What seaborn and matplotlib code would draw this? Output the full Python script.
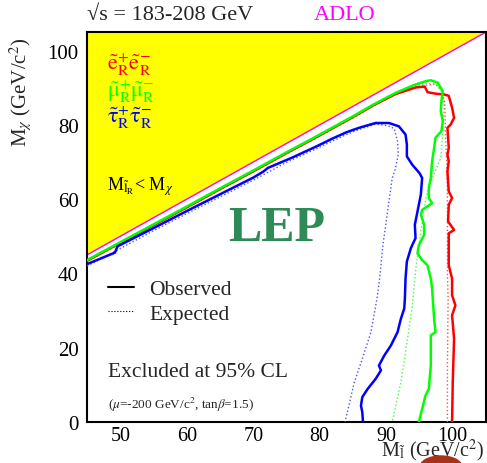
import matplotlib
matplotlib.use("Agg")
import matplotlib.pyplot as plt
from matplotlib.lines import Line2D
from matplotlib.patches import Ellipse
import seaborn as sns
import numpy as np

# ---------------- data ----------------
diag_x = [45, 105]

green_obs_x = [45, 50, 55, 60, 65, 70, 75, 79.5, 85, 88, 91.4, 94, 96, 96.7, 97.7, 98.5, 98.3, 98.2,
               98.5, 98.3, 97.4, 97.2, 96.9, 96.7, 96.4, 96.4, 96.9, 95.4, 95.2, 95.7, 95.7, 94.9, 94.7,
               95.4, 96.2, 96.7, 96.9, 97.0, 97.2, 97.4, 96.7, 96.7, 96.4, 95.9, 95.4, 94.9]
green_obs_y = [43.6, 48.4, 53.2, 58.0, 62.9, 67.7, 72.6, 76.9, 82.3, 85.4, 88.6, 90.6, 91.8, 92.0, 91.4,
               89.1, 86.4, 83.7, 81.0, 78.3, 76.5, 73.8, 70.2, 65.7, 63.0, 60.3, 58.9, 57.1, 55.8, 53.1,
               50.4, 47.6, 45.4, 43.6, 42.2, 38.6, 35.9, 33.0, 27.8, 24.2, 23.3, 15.2, 8.9, 7.1, 3.5, 0]

red_obs_x = [45, 50, 55, 60, 65, 70, 75, 79.5, 85, 88, 91.4, 94.5, 95.8, 96.2, 97.4, 98.7, 99.4, 99.9,
             100.2, 99.7, 99.2, 99.3, 99.4, 99.2, 99.4, 99.2, 99.3, 99.4, 99.9, 99.4, 99.3, 100.2, 99.4,
             99.4, 99.9, 99.9, 100.4, 99.9, 100.2, 100.0, 99.9]
red_obs_y = [43.4, 48.2, 53.0, 57.8, 62.7, 67.5, 72.4, 76.7, 82.1, 85.2, 88.3, 90.1, 90.3, 88.8, 88.4,
             88.2, 87.8, 84.6, 81.9, 80.1, 79.2, 76.5, 73.8, 72.0, 70.2, 67.5, 64.8, 62.1, 60.3, 58.5,
             54.0, 51.7, 50.8, 42.2, 38.6, 34.1, 31.4, 28.7, 22.4, 10.7, 0]

blue_obs_x = [45, 49.2, 49.6, 55, 60, 65, 70, 71.5, 72.2, 76, 79.5, 81.9, 84, 85.9, 88.4, 90.4, 91.9,
              92.9, 93.1, 93.1, 93.9, 95.0, 95.4, 95.2, 94.7, 94.3, 94.4, 93.7, 93.1, 92.9, 92.8, 92.7,
              92.2, 91.7, 90.7, 89.7, 88.9, 89.2, 88.4, 87.2, 86.4, 86.2, 86.4, 86.5]
blue_obs_y = [42.5, 45.6, 47.3, 52.2, 56.8, 61.3, 65.8, 67.4, 68.4, 71.3, 74.2, 76.3, 78.0, 79.2, 80.5,
              80.5, 79.6, 77.4, 74.7, 71.5, 69.3, 67.0, 65.7, 61.2, 56.7, 53.1, 49.5, 46.8, 43.2, 38.6,
              33.2, 30.5, 27.8, 24.2, 20.6, 17.9, 15.2, 13.9, 11.6, 8.9, 6.7, 4.4, 2.6, 0]

blue_exp_x = [45, 50, 55, 60, 65, 70, 75, 79.5, 84, 86, 88.4, 90.2, 91.2, 91.7, 91.8, 91.4, 90.9, 90.2,
              89.5, 89.0, 88.6, 87.7, 86.4, 85.2, 83.8]
blue_exp_y = [42.0, 46.7, 51.5, 56.1, 60.6, 65.1, 69.9, 73.6, 77.4, 78.8, 80.2, 79.8, 79.0, 75.6, 72.0,
              68.4, 65.7, 56.7, 47.6, 38.6, 33.2, 24.2, 17.0, 10.7, 0]

green_exp_x = [45, 50, 55, 60, 65, 70, 75, 79.5, 85, 88, 91.4, 94, 96, 97.5, 98.5, 98.7, 98.5, 98.2,
               97.0, 96.2, 95.7, 94.9, 94.4, 93.9, 93.2, 92.2, 90.9]
green_exp_y = [43.3, 48.1, 52.9, 57.7, 62.6, 67.4, 72.3, 76.6, 82.0, 85.1, 88.3, 90.3, 91.2, 91.0, 88.5,
               84.6, 78.0, 71.1, 66.0, 62.0, 57.6, 47.6, 40.5, 31.0, 22.4, 10.7, 0]

red_exp_x = [45, 50, 55, 60, 65, 70, 75, 79.5, 85, 88, 91.4, 94, 96.0, 97.4, 98.3, 98.8, 98.9, 99.1,
             99.2, 99.2, 99.3, 99.2, 99.2]
red_exp_y = [43.2, 48.0, 52.8, 57.6, 62.5, 67.3, 72.2, 76.5, 81.9, 85.0, 88.2, 90.0, 90.7, 91.0, 89.5,
             86.0, 77.4, 70.0, 60.0, 40.0, 33.0, 15.0, 0]

# ---------------- styling ----------------
sns.set_style("white")
plt.rcParams['font.family'] = ['Liberation Serif', 'DejaVu Serif']
plt.rcParams['mathtext.fontset'] = 'stix'

fig = plt.figure(figsize=(4.87, 4.64), dpi=100)
ax = fig.add_axes([87 / 487, 41 / 464, 399 / 487, 390 / 464])

# forbidden region
dx = np.array(diag_x, dtype=float)
ax.fill_between(dx, dx, 105, color='#ffff00', lw=0, zorder=1)
sns.lineplot(x=diag_x, y=diag_x, ax=ax, color='#ff00ff', lw=1.0, sort=False, estimator=None, zorder=2)

RED, GREEN, BLUE = '#ff0000', '#00ff00', '#0000ff'
curves = [
    (blue_exp_x, blue_exp_y, '#5050ff', ':', 1.0),
    (green_exp_x, green_exp_y, '#40ff40', ':', 1.0),
    (red_exp_x, red_exp_y, '#ff5050', ':', 1.0),
    (red_obs_x, red_obs_y, RED, '-', 1.8),
    (green_obs_x, green_obs_y, GREEN, '-', 1.8),
    (blue_obs_x, blue_obs_y, BLUE, '-', 1.8),
]
for xs, ys, c, ls, lw in curves:
    sns.lineplot(x=xs, y=ys, ax=ax, color=c, linestyle=ls, lw=lw, sort=False,
                 estimator=None, zorder=3)

ax.set_xlim(45, 105)
ax.set_ylim(0, 105)
ax.set_xticks([50, 60, 70, 80, 90, 100])
ax.set_yticks([0, 20, 40, 60, 80, 100])
ax.set_xticks(np.arange(46, 105, 2), minor=True)
ax.set_yticks(np.arange(0, 105, 5), minor=True)
ax.tick_params(which='both', direction='in', top=False, right=False, labelsize=15, colors='black')
ax.tick_params(axis='x', labelsize=14.5)
ax.tick_params(which='major', length=8, width=1.0)
ax.tick_params(which='minor', length=4, width=1.0)
ax.tick_params(axis='y', which='major', pad=6)
ax.tick_params(axis='x', which='major', pad=3)
for s in ax.spines.values():
    s.set_linewidth(1.5)
    s.set_color('black')
ax.set_xlabel('')
ax.set_ylabel('')

# texts
fig.text(87 / 487, 1 - 15 / 464, '√s = 183-208 GeV', ha='left', va='center', fontsize=16)
fig.text(345 / 487, 1 - 15 / 464, 'ADLO', ha='center', va='center', fontsize=16, color='#ff00ff')
fig.text(21 / 487, 1 - 92 / 464, r'M$_\chi$ (GeV/c$^2$)', rotation=90, ha='center', va='center', fontsize=15)
fig.text(484 / 487, 0 / 464, r'M$_{\mathrm{\tilde{l}}}$ (GeV/c$^2$)', ha='right', va='bottom', fontsize=14.5)

ax.text(48.0, 96.5, r'$\mathrm{\tilde{e}}^{+}_{\mathrm{R}}\mathrm{\tilde{e}}^{-}_{\mathrm{R}}$', color=RED,
        fontsize=16, va='center', ha='left', zorder=5)
ax.text(48.0, 89.3, r'$\mathrm{\tilde{\mu}}^{+}_{\mathrm{R}}\mathrm{\tilde{\mu}}^{-}_{\mathrm{R}}$', color=GREEN,
        fontsize=16, va='center', ha='left', zorder=5)
ax.text(48.0, 82.2, r'$\mathrm{\tilde{\tau}}^{+}_{\mathrm{R}}\mathrm{\tilde{\tau}}^{-}_{\mathrm{R}}$', color=BLUE,
        fontsize=16, va='center', ha='left', zorder=5)
ax.text(48.0, 63.6, r'M$_{\tilde{\mathrm{l}}_\mathrm{R}}$< M$_\chi$', color='black', fontsize=13,
        va='center', ha='left', zorder=5)
ax.text(73.5, 52.2, 'LEP', color='#2e8b57', fontsize=36, fontweight='bold', ha='center', va='center', zorder=5)
ax.text(48.2, 13.5, 'Excluded at 95% CL', fontsize=15.5, ha='left', va='center', zorder=5)
ax.text(48.2, 4.9, r'($\mu$=-200 GeV/c$^2$, tan$\beta$=1.5)', fontsize=9.5, ha='left', va='center', zorder=5)

handles = [Line2D([], [], color='black', lw=1.5, ls='-'),
           Line2D([], [], color='black', lw=0.8, ls=':')]
ax.legend(handles, ['Observed', 'Expected'], loc='upper left', bbox_to_anchor=(48.2, 38.4),
          bbox_transform=ax.transData, frameon=False, fontsize=15.5, handlelength=1.2,
          handletextpad=0.7, labelspacing=0.2, borderpad=0, borderaxespad=0)

# reddish blob partially visible at bottom edge
fig.add_artist(Ellipse((441 / 487, -4 / 464), 42 / 487, 22 / 464, transform=fig.transFigure,
                       color='#a83218', zorder=0, clip_on=False))

fig.savefig('out.png', dpi=100)
